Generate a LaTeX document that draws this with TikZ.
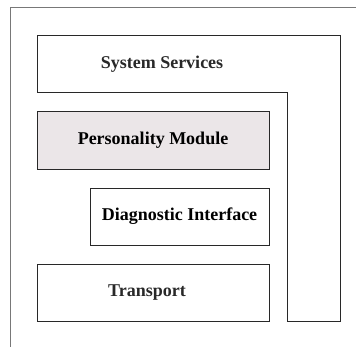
\documentclass[tikz,border=0pt]{standalone}
\usepackage{fontspec}
\setmainfont{Liberation Serif}
\usepackage{tikz}
\usetikzlibrary{calc}
\definecolor{pmfill}{RGB}{235,230,232}
\definecolor{framegray}{RGB}{120,120,120}
\definecolor{boxline}{RGB}{40,40,40}

\begin{document}
\begin{tikzpicture}[x=1pt,y=-1pt,line width=0.9pt,
  layer/.style={draw=boxline,rectangle,inner sep=0pt,font=\fontsize{18}{21}\selectfont\bfseries},
  lbl/.style={font=\fontsize{18}{21}\selectfont\bfseries,text=boxline}]
  \useasboundingbox (0,0) rectangle (356,347);
  % outer frame (only top and left edges show)
  \draw[framegray] (10,347) -- (10,7) -- (356,7);
  % system services, L shaped
  \draw[boxline] (37,35) -- (340,35) -- (340,321) -- (287,321) -- (287,92) -- (37,92) -- cycle;
  \node[lbl] (sys) at (162,64) {System Services};
  % stacked layers
  \node[layer,fill=pmfill,minimum width=232,minimum height=58] (pers) at (153,140) {Personality Module};
  \node[layer,minimum width=179,minimum height=57] (diag) at (179.5,216.5) {Diagnostic Interface};
  \node[layer,minimum width=232,minimum height=57] (trans) at (153,292.5) {};
  \node[lbl] (translbl) at (147,293) {Transport};
\end{tikzpicture}
\end{document}
